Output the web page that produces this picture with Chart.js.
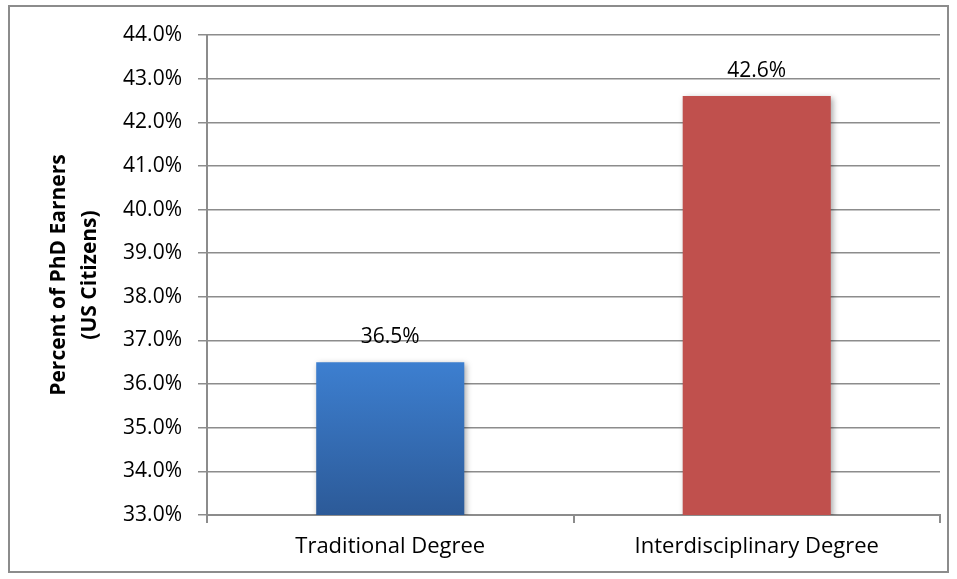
<!DOCTYPE html>
<html>
<head>
<meta charset="utf-8">
<script src="https://cdn.jsdelivr.net/npm/chart.js@4/dist/chart.umd.min.js"></script>
<style>
  html, body { margin: 0; padding: 0; background: #fff; }
  #wrap { width: 957px; height: 579px; position: relative; }
</style>
</head>
<body>
<div id="wrap"><canvas id="c"></canvas></div>
<script>
// data
const categories = ['Traditional Degree', 'Interdisciplinary Degree'];
const values = [36.5, 42.6];
const barColors = ['blue', '#c0504d'];
const yMin = 33, yMax = 44, yStep = 1;
const yTitle = ['Percent of PhD Earners', '(US Citizens)'];

const FONT = "'Open Sans', 'Liberation Sans', sans-serif";
const FS = 21;

// 外枠
const frame = {
  id: 'frame',
  beforeDraw(c) {
    const ctx = c.ctx;
    ctx.save();
    ctx.fillStyle = '#fff';
    ctx.fillRect(0, 0, c.width, c.height);
    ctx.strokeStyle = '#8c8c8c';
    ctx.lineWidth = 2;
    ctx.strokeRect(9, 6, 939, 566);
    ctx.restore();
  }
};

// バーの影
const shadow = {
  id: 'shadow',
  beforeDatasetsDraw(c) {
    const ctx = c.ctx;
    ctx.save();
    ctx.shadowColor = 'rgba(0,0,0,0.35)';
    ctx.shadowBlur = 6;
    ctx.shadowOffsetX = 2;
    ctx.shadowOffsetY = 2;
  },
  afterDatasetsDraw(c) { c.ctx.restore(); }
};

// 値ラベル
const valueLabels = {
  id: 'valueLabels',
  afterDatasetsDraw(c) {
    const ctx = c.ctx;
    ctx.save();
    ctx.font = FS + 'px ' + FONT;
    ctx.fillStyle = '#000';
    ctx.textAlign = 'center';
    ctx.textBaseline = 'alphabetic';
    c.getDatasetMeta(0).data.forEach((b, i) => {
      ctx.fillText(values[i].toFixed(1) + '%', b.x, b.y - 19);
    });
    ctx.restore();
  }
};

function bg(context) {
  const i = context.dataIndex;
  if (barColors[i] !== 'blue') return barColors[i];
  const { chartArea, scales } = context.chart;
  if (!chartArea) return '#3a75c4';
  const g = context.chart.ctx.createLinearGradient(0, scales.y.getPixelForValue(values[i]), 0, chartArea.bottom);
  g.addColorStop(0, '#3d7fd0');
  g.addColorStop(1, '#2c5a98');
  return g;
}

new Chart(document.getElementById('c'), {
  type: 'bar',
  data: {
    labels: categories,
    datasets: [{ data: values, backgroundColor: bg, borderWidth: 0, barPercentage: 0.404, categoryPercentage: 1 }]
  },
  plugins: [frame, shadow, valueLabels],
  options: {
    responsive: true, maintainAspectRatio: false, animation: false,
    layout: { padding: { top: 35, right: 17, left: 0, bottom: 0 } },
    plugins: { legend: { display: false }, tooltip: { enabled: false } },
    scales: {
      x: {
        grid: { display: true, drawOnChartArea: false, drawTicks: true, tickLength: 8, color: '#8c8c8c', lineWidth: 2, offset: true },
        border: { display: true, color: '#8c8c8c', width: 2 },
        ticks: { color: '#000', font: { family: FONT, size: FS + 1 }, padding: 11 },
        afterFit(s) { s.height = 64; }
      },
      y: {
        min: yMin, max: yMax,
        grid: { color: '#8c8c8c', lineWidth: 1.5, tickLength: 9 },
        border: { display: true, color: '#8c8c8c', width: 2 },
        ticks: { stepSize: yStep, color: '#000', font: { family: FONT, size: FS }, padding: 16,
          callback: v => v.toFixed(1) + '%' },
        title: { display: true, text: yTitle, color: '#000', font: { family: FONT, size: FS, weight: 'bold', lineHeight: 1.45 }, padding: { top: 44 } },
        afterFit(s) { s.width = 207; }
      }
    }
  }
});
</script>
</body>
</html>
